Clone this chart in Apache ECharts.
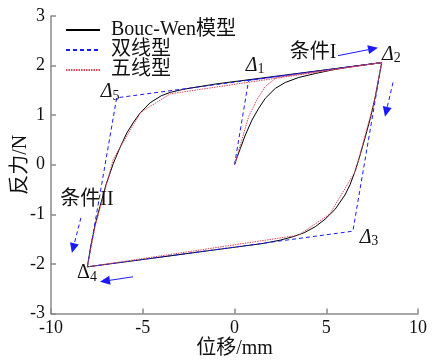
<!DOCTYPE html>
<html><head><meta charset="utf-8">
<script src="https://cdn.jsdelivr.net/npm/echarts@6/dist/echarts.min.js"></script>
<style>html,body{margin:0;padding:0;background:#fff}#c{width:435px;height:363px}</style>
</head><body><div id="c"></div>
<script>
// ---- data ----
const xTickValues = [-10, -5, 0, 5, 10];
const yTickValues = [-3, -2, -1, 0, 1, 2, 3];
const seriesNames = ['Bouc-Wen模型', '双线型', '五线型'];

// Bouc-Wen model: virgin curve, descending branch, ascending branch
const boucWenInitial = [[0,0],[0.15,0.16],[0.32,0.33],[0.59,0.6],[0.95,0.9],[1.32,1.14],[1.68,1.34],[2.22,1.54],[2.77,1.66],[3.5,1.76],[4.4,1.84],[5.31,1.91],[6.2,1.97],[8.02,2.06]];
const boucWenDescending = [[7.85,1.72],[7.66,1.35],[7.4,0.93],[7.11,0.54],[6.85,0.2],[6.57,-0.13],[6.3,-0.4],[6.02,-0.61],[5.48,-0.9],[4.93,-1.1],[4.4,-1.25],[3.8,-1.37],[3.2,-1.45],[2.5,-1.52],[1.5,-1.59],[-8.02,-2.06]];
const boucWenAscending = [[-7.85,-1.68],[-7.6,-1.22],[-7.33,-0.84],[-7.0,-0.4],[-6.6,0.03],[-6.2,0.38],[-5.87,0.64],[-5.5,0.86],[-5.15,1.04],[-4.6,1.25],[-4.0,1.39],[-3.5,1.46],[-2.8,1.52],[-2.0,1.57],[-1.0,1.63],[8.02,2.06]];

// Bilinear model: origin, Δ1, Δ2, Δ3, Δ4, Δ5, Δ2
const bilinear = [[0,0],[0.77,1.7],[8.02,2.06],[6.45,-1.34],[-8.02,-2.06],[-6.42,1.35],[8.02,2.06]];

// Five-line model
const fiveLineInitial = [[0,0],[0.77,0.97],[1.25,1.33],[1.68,1.58],[2.3,1.76],[8.02,2.06]];
const fiveLineDescending = [[7.6,1.25],[6.6,-0.12],[5.2,-0.99],[3.5,-1.42],[-8.02,-2.06]];
const fiveLineAscending = [[-7.6,-1.25],[-6.6,0.12],[-5.1,1.06],[-3.5,1.43],[8.02,2.06]];

// annotations (data coordinates)
const deltaLabels = [
  {sub:'1', at:[1.12,2.0], italic:true},
  {sub:'2', at:[8.55,2.22], italic:true},
  {sub:'3', at:[7.33,-1.47], italic:true},
  {sub:'4', at:[-8.04,-2.18], italic:false},
  {sub:'5', at:[-6.78,1.47], italic:true}
];
const caseLabels = [
  {text:'条件I', at:[4.28,2.26]},
  {text:'条件II', at:[-8.04,-0.71]}
];
const arrows = [
  {from:[5.64,2.20], to:[7.82,2.36], dashed:false},
  {from:[8.64,1.66], to:[8.20,0.97], dashed:true},
  {from:[-8.37,-1.07], to:[-8.86,-1.78], dashed:true},
  {from:[-5.53,-2.26], to:[-7.33,-2.36], dashed:false}
];

const serif = '"Liberation Serif","Times New Roman","Noto Sans CJK SC",serif';
const chart = echarts.init(document.getElementById('c'), null, {renderer:'canvas'});
const axisColor = '#8a8a8a';
chart.setOption({
  animation:false,
  backgroundColor:'#fff',
  grid:{left:51, right:17, top:16, bottom:49.5, containLabel:false, outerBoundsMode:'none'},
  legend:{
    orient:'vertical', left:60, top:15, itemGap:0, itemWidth:34, itemHeight:12,
    data:seriesNames,
    itemStyle:{opacity:0},
    textStyle:{fontFamily:serif, fontSize:20, color:'#111', lineHeight:20, padding:[0,0,0,6]}
  },
  xAxis:{
    type:'value', min:-10, max:10, interval:5,
    name:'位移/mm', nameLocation:'middle', nameGap:25, nameMoveOverlap:false,
    nameTextStyle:{fontFamily:serif, fontSize:20, color:'#111'},
    axisLine:{show:true, onZero:false, lineStyle:{color:axisColor, width:1.5}},
    axisTick:{show:true, inside:true, length:5, lineStyle:{color:axisColor, width:1.5}},
    axisLabel:{fontFamily:serif, fontSize:18, color:'#111', margin:6},
    splitLine:{show:false}
  },
  yAxis:{
    type:'value', min:-3, max:3, interval:1,
    name:'反力/N', nameLocation:'middle', nameGap:20, nameRotate:90, nameMoveOverlap:false,
    nameTextStyle:{fontFamily:serif, fontSize:20, color:'#111'},
    axisLine:{show:true, onZero:false, lineStyle:{color:axisColor, width:1.5}},
    axisTick:{show:true, inside:true, length:5, lineStyle:{color:axisColor, width:1.5}},
    axisLabel:{fontFamily:serif, fontSize:18, color:'#111', margin:6},
    splitLine:{show:false}
  },
  series:[
    {name:seriesNames[0], type:'line', symbol:'none', smooth:false,
     data:boucWenInitial.concat(boucWenDescending, boucWenAscending),
     lineStyle:{color:'#000', width:1}, itemStyle:{color:'#000'}, z:2},
    {name:seriesNames[1], type:'line', symbol:'none',
     data:bilinear,
     lineStyle:{color:'#1a1aff', width:1, type:[4,3]}, itemStyle:{color:'#1a1aff'}, z:3},
    {name:seriesNames[2], type:'line', symbol:'none',
     data:fiveLineInitial.concat(fiveLineDescending, fiveLineAscending),
     lineStyle:{color:'#dc4858', width:1, type:[1.5,1]}, itemStyle:{color:'#dc4858'}, z:4}
  ]
});

function px(p){ return chart.convertToPixel({xAxisIndex:0, yAxisIndex:0}, p); }
const g = [];
deltaLabels.forEach(d => {
  const p = px(d.at);
  g.push({type:'text', x:p[0], y:p[1], z:10,
    style:{text:'{d|Δ}{s|' + d.sub + '}', align:'center', verticalAlign:'middle',
      rich:{
        d:{fontFamily:serif, fontSize:20, fontStyle:d.italic?'italic':'normal', fill:'#111', verticalAlign:'middle'},
        s:{fontFamily:serif, fontSize:14, fill:'#111', padding:[8,0,0,0]}
      }}});
});
caseLabels.forEach(c => {
  const p = px(c.at);
  g.push({type:'text', x:p[0], y:p[1], z:10,
    style:{text:c.text, align:'center', verticalAlign:'middle', fontFamily:serif, fontSize:20, fill:'#111'}});
});
arrows.forEach(a => {
  const s = px(a.from), e = px(a.to);
  const dx = e[0]-s[0], dy = e[1]-s[1], L = Math.hypot(dx,dy);
  const ux = dx/L, uy = dy/L, nx = -uy, ny = ux;
  const hl = 10, hw = 4.5;
  const bx = e[0]-ux*hl, by = e[1]-uy*hl;
  g.push({type:'line', z:10, shape:{x1:s[0], y1:s[1], x2:bx, y2:by},
    style:{stroke:'#1a1aff', lineWidth:1, lineDash:a.dashed?[4,3]:null}});
  g.push({type:'polygon', z:10, shape:{points:[[e[0],e[1]],[bx+nx*hw,by+ny*hw],[bx-nx*hw,by-ny*hw]]},
    style:{fill:'#1a1aff'}});
});
chart.setOption({graphic:g});
</script>
</body></html>
